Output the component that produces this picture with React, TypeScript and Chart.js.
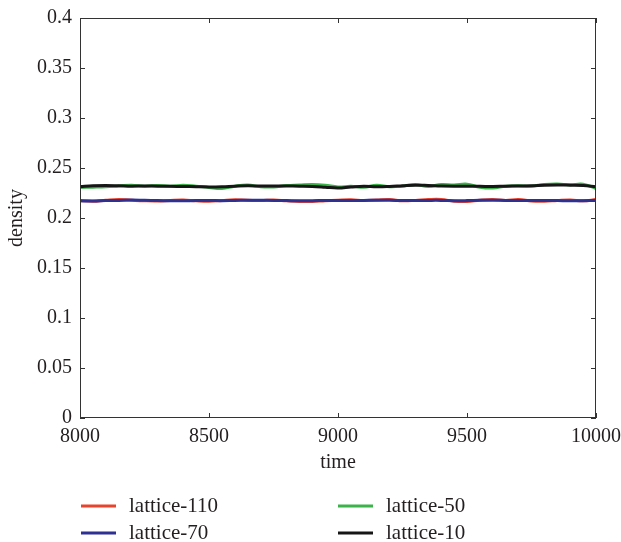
import React, { useEffect, useRef } from "react";
import { Chart, registerables } from "chart.js";

Chart.register(...registerables);

const times = [
  8000, 8050, 8100, 8150, 8200, 8250, 8300, 8350, 8400, 8450, 8500, 8550, 8600, 8650,
  8700, 8750, 8800, 8850, 8900, 8950, 9000, 9050, 9100, 9150, 9200, 9250, 9300, 9350,
  9400, 9450, 9500, 9550, 9600, 9650, 9700, 9750, 9800, 9850, 9900, 9950, 10000,
];

const lattice10 = [
  0.2315, 0.2322, 0.2325, 0.2322, 0.2318, 0.232, 0.2318, 0.2317, 0.2315, 0.2313, 0.231,
  0.2312, 0.2318, 0.2322, 0.232, 0.232, 0.232, 0.2318, 0.2315, 0.2308, 0.23, 0.231,
  0.2318, 0.2312, 0.2315, 0.2322, 0.2328, 0.2325, 0.232, 0.2318, 0.2318, 0.2317, 0.2315,
  0.2318, 0.232, 0.2322, 0.2328, 0.233, 0.2328, 0.2325, 0.2312,
];

const lattice50 = [
  0.2305, 0.2308, 0.2312, 0.232, 0.2328, 0.2318, 0.2325, 0.2318, 0.2328, 0.2318, 0.2305,
  0.2295, 0.2318, 0.233, 0.2312, 0.231, 0.2325, 0.233, 0.2335, 0.2328, 0.231, 0.2318,
  0.2308, 0.2328, 0.2312, 0.2318, 0.2335, 0.2315, 0.2335, 0.233, 0.2338, 0.2308, 0.23,
  0.2318, 0.2322, 0.2318, 0.2335, 0.234, 0.2332, 0.2338, 0.2295,
];

const lattice70 = [
  0.2172, 0.217, 0.2174, 0.2176, 0.218, 0.2177, 0.2174, 0.2172, 0.2172, 0.2174, 0.2175,
  0.2173, 0.2176, 0.2178, 0.2178, 0.2176, 0.2174, 0.2172, 0.2173, 0.2175, 0.2176, 0.2174,
  0.2176, 0.2178, 0.2177, 0.2175, 0.2175, 0.2176, 0.2176, 0.2173, 0.2174, 0.2177, 0.2178,
  0.2176, 0.2175, 0.2176, 0.2175, 0.2174, 0.2172, 0.2173, 0.2175,
];

const lattice110 = [
  0.2175, 0.2168, 0.2178, 0.2185, 0.2178, 0.2172, 0.217, 0.2176, 0.218, 0.2172, 0.2168,
  0.2175, 0.2182, 0.2178, 0.2174, 0.218, 0.2172, 0.2166, 0.2165, 0.2172, 0.2178, 0.2182,
  0.2174, 0.218, 0.2184, 0.2172, 0.2176, 0.2184, 0.2185, 0.2168, 0.2165, 0.2178, 0.2184,
  0.2176, 0.2184, 0.217, 0.2168, 0.2175, 0.218, 0.2172, 0.2184,
];

const xTicks = [8000, 8500, 9000, 9500, 10000];
const yTicks = [0, 0.05, 0.1, 0.15, 0.2, 0.25, 0.3, 0.35, 0.4];

const seriesNames = ["lattice-110", "lattice-50", "lattice-70", "lattice-10"];
const seriesColors = ["#E8432D", "#3BB34A", "#2E3192", "#161616"];

const FONT = "'Liberation Serif', 'DejaVu Serif', serif";
const TEXT = "#231f20";

const toPts = (vals: number[]) => times.map((t, i) => ({ x: t, y: vals[i] }));

const boxPlugin = {
  id: "boxTicks",
  afterDraw(chart: any) {
    const { ctx, chartArea: a, scales } = chart;
    ctx.save();
    ctx.strokeStyle = "#333";
    ctx.lineWidth = 1;
    ctx.strokeRect(a.left + 0.5, a.top + 0.5, a.right - a.left - 1, a.bottom - a.top - 1);
    const L = 5;
    ctx.beginPath();
    xTicks.forEach((v) => {
      const px = Math.round(scales.x.getPixelForValue(v)) + 0.5;
      ctx.moveTo(px, a.bottom);
      ctx.lineTo(px, a.bottom - L);
      ctx.moveTo(px, a.top);
      ctx.lineTo(px, a.top + L);
    });
    yTicks.forEach((v) => {
      const py = Math.round(scales.y.getPixelForValue(v)) + 0.5;
      ctx.moveTo(a.left, py);
      ctx.lineTo(a.left + L, py);
      ctx.moveTo(a.right, py);
      ctx.lineTo(a.right - L, py);
    });
    ctx.stroke();

    // legend: two columns, two rows
    const slots = [
      [81, 506],
      [338, 506],
      [81, 533],
      [338, 533],
    ];
    ctx.font = `21px ${FONT}`;
    ctx.textBaseline = "middle";
    ctx.textAlign = "left";
    seriesNames.forEach((name, i) => {
      const [lx, ly] = slots[i];
      ctx.strokeStyle = seriesColors[i];
      ctx.lineWidth = 3;
      ctx.beginPath();
      ctx.moveTo(lx, ly);
      ctx.lineTo(lx + 35, ly);
      ctx.stroke();
      ctx.fillStyle = TEXT;
      ctx.fillText(name, lx + 48, ly);
    });
    ctx.restore();
  },
};

export default function App() {
  const ref = useRef<HTMLCanvasElement | null>(null);
  useEffect(() => {
    if (!ref.current) return;
    const mk = (idx: number, vals: number[]) => ({
      label: seriesNames[idx],
      data: toPts(vals),
      borderColor: seriesColors[idx],
      backgroundColor: seriesColors[idx],
      borderWidth: 3,
      pointRadius: 0,
      tension: 0.4,
      fill: false,
    });
    const chart = new Chart(ref.current, {
      type: "line",
      data: {
        datasets: [
          mk(2, lattice70),
          mk(3, lattice10),
          mk(0, lattice110),
          mk(1, lattice50),
        ],
      },
      options: {
        animation: false,
        responsive: false,
        maintainAspectRatio: false,
        layout: { padding: { left: 0, right: 25, top: 18, bottom: 60 } },
        plugins: { legend: { display: false }, tooltip: { enabled: false } },
        scales: {
          x: {
            type: "linear",
            min: 8000,
            max: 10000,
            afterBuildTicks: (s: any) => {
              s.ticks = xTicks.map((v) => ({ value: v }));
            },
            afterFit: (s: any) => {
              s.height = 64;
              s.paddingLeft = 0;
              s.paddingRight = 0;
            },
            grid: { display: false, drawTicks: false },
            border: { display: false },
            ticks: {
              color: TEXT,
              font: { family: FONT, size: 20 },
              padding: 7,
              maxRotation: 0,
              callback: (v: any) => String(v),
            },
            title: {
              display: true,
              text: "time",
              color: TEXT,
              font: { family: FONT, size: 20 },
              padding: { top: 0, bottom: 7 },
            },
          },
          y: {
            type: "linear",
            min: 0,
            max: 0.4,
            afterBuildTicks: (s: any) => {
              s.ticks = yTicks.map((v) => ({ value: v }));
            },
            afterFit: (s: any) => {
              s.width = 80;
              s.paddingTop = 0;
              s.paddingBottom = 0;
            },
            grid: { display: false, drawTicks: false },
            border: { display: false },
            ticks: {
              color: TEXT,
              font: { family: FONT, size: 20 },
              padding: 8,
              callback: (v: any) => String(Number(Number(v).toFixed(2))),
            },
            title: {
              display: true,
              text: "density",
              color: TEXT,
              font: { family: FONT, size: 20 },
              padding: { top: 5, bottom: 0 },
            },
          },
        },
      },
      plugins: [boxPlugin],
    });
    return () => chart.destroy();
  }, []);
  return (
    <div style={{ position: "fixed", left: 0, top: 0, width: 621, height: 542, background: "#fff" }}>
      <canvas ref={ref} width={621} height={542} style={{ width: 621, height: 542 }} />
    </div>
  );
}
